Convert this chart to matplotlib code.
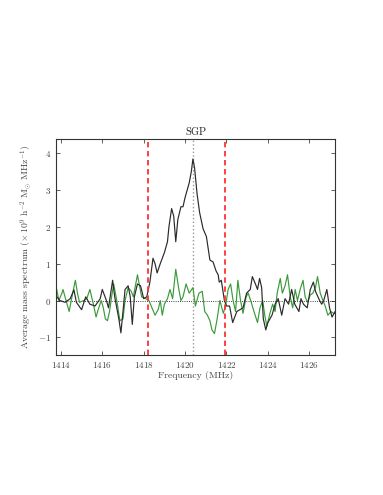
import matplotlib
matplotlib.use("Agg")
from matplotlib import pyplot as plt

plt.rcParams['font.family'] = 'serif'
plt.rcParams['font.serif'] = ['cmr10', 'DejaVu Serif']
plt.rcParams['mathtext.fontset'] = 'cm'
plt.rcParams['axes.formatter.use_mathtext'] = True
plt.rcParams['axes.unicode_minus'] = True

# stacked spectrum (black)
freq_stack = [1413.8, 1413.95, 1414.2, 1414.45, 1414.63, 1414.75, 1415.0, 1415.2,
              1415.4, 1415.65, 1415.9, 1416.0, 1416.2, 1416.3, 1416.5, 1416.6,
              1416.8, 1416.9, 1417.0, 1417.1, 1417.25, 1417.35, 1417.45, 1417.55,
              1417.7, 1417.85, 1418.0, 1418.15, 1418.3, 1418.45, 1418.55, 1418.65,
              1418.8, 1419.0, 1419.15, 1419.22, 1419.35, 1419.45, 1419.55, 1419.65,
              1419.8, 1419.9, 1420.0, 1420.2, 1420.3, 1420.38, 1420.46, 1420.58,
              1420.7, 1420.87, 1421.03, 1421.2, 1421.35, 1421.5, 1421.6, 1421.65,
              1421.75, 1421.9, 1422.0, 1422.15, 1422.3, 1422.5, 1422.65, 1422.8,
              1422.97, 1423.15, 1423.25, 1423.4, 1423.5, 1423.6, 1423.7, 1423.78,
              1423.9, 1424.0, 1424.2, 1424.35, 1424.5, 1424.67, 1424.83, 1425.0,
              1425.15, 1425.3, 1425.5, 1425.6, 1425.72, 1425.9, 1426.05, 1426.2,
              1426.3, 1426.5, 1426.6, 1426.7, 1426.85, 1426.98, 1427.1, 1427.25]
mass_stack = [0.1, 0.0, -0.05, 0.05, 0.29, -0.05, -0.25, 0.1,
              -0.1, -0.15, 0.05, 0.3, 0.0, -0.2, 0.55, 0.1,
              -0.5, -0.88, -0.3, 0.3, 0.4, 0.1, -0.65, 0.1,
              0.45, 0.4, 0.05, 0.1, 0.5, 1.15, 1.0, 0.75,
              1.0, 1.3, 1.6, 2.0, 2.5, 2.3, 1.6, 2.2,
              2.55, 2.55, 2.8, 3.2, 3.5, 3.85, 3.6, 2.9,
              2.4, 1.95, 1.74, 1.1, 1.05, 0.8, 0.7, 0.5,
              0.55, 0.0, -0.15, -0.15, -0.6, -0.3, -0.25, -0.2,
              0.2, 0.3, 0.65, 0.45, 0.3, 0.6, 0.35, -0.5,
              -0.8, -0.6, -0.4, -0.1, 0.05, -0.4, 0.05, -0.1,
              0.3, -0.1, -0.3, 0.05, -0.1, -0.2, 0.3, 0.5,
              0.25, 0.0, -0.1, 0.0, 0.3, -0.2, -0.45, -0.3]

# control spectrum (green)
freq_ctrl = [1413.8, 1413.9, 1414.05, 1414.1, 1414.25, 1414.4, 1414.5, 1414.7,
             1414.8, 1414.9, 1415.1, 1415.25, 1415.4, 1415.57, 1415.7, 1415.8,
             1415.95, 1416.05, 1416.15, 1416.25, 1416.35, 1416.45, 1416.55, 1416.7,
             1416.85, 1417.0, 1417.1, 1417.25, 1417.4, 1417.5, 1417.7, 1417.8,
             1417.9, 1418.1, 1418.25, 1418.4, 1418.55, 1418.7, 1418.8, 1418.9,
             1419.0, 1419.15, 1419.27, 1419.4, 1419.55, 1419.7, 1419.8, 1419.9,
             1420.05, 1420.2, 1420.38, 1420.5, 1420.67, 1420.83, 1420.95, 1421.08,
             1421.2, 1421.3, 1421.42, 1421.55, 1421.68, 1421.85, 1421.97, 1422.08,
             1422.2, 1422.32, 1422.44, 1422.55, 1422.68, 1422.8, 1422.95, 1423.05,
             1423.17, 1423.33, 1423.5, 1423.62, 1423.75, 1423.85, 1423.95, 1424.1,
             1424.23, 1424.35, 1424.45, 1424.6, 1424.7, 1424.83, 1424.95, 1425.08,
             1425.2, 1425.32, 1425.43, 1425.56, 1425.7, 1425.8, 1425.92, 1426.05,
             1426.17, 1426.3, 1426.4, 1426.53, 1426.66, 1426.77, 1426.9, 1427.05,
             1427.17, 1427.25]
mass_ctrl = [0.3, 0.0, 0.2, 0.3, 0.0, -0.3, 0.0, 0.55,
             0.2, -0.05, 0.0, 0.05, 0.3, -0.1, -0.45, -0.25,
             0.0, -0.2, -0.5, -0.55, -0.3, 0.1, 0.45, 0.0,
             -0.55, -0.5, 0.0, 0.35, 0.25, 0.1, 0.7, 0.4,
             0.1, 0.05, 0.0, -0.2, -0.4, -0.25, 0.0, -0.4,
             -0.1, 0.05, 0.3, 0.05, 0.85, 0.3, 0.0, 0.1,
             0.45, 0.2, 0.35, -0.15, 0.2, 0.25, -0.3, -0.4,
             -0.55, -0.8, -0.9, -0.5, 0.0, -0.35, -0.1, 0.3,
             0.45, 0.0, -0.3, 0.55, 0.0, -0.35, 0.1, 0.2,
             0.0, -0.3, -0.6, -0.2, 0.0, -0.4, -0.7, -0.35,
             -0.1, -0.3, 0.2, 0.6, 0.2, 0.4, 0.7, 0.1,
             -0.2, 0.3, 0.0, 0.3, 0.55, 0.1, -0.05, 0.15,
             0.2, 0.35, 0.65, 0.2, 0.0, -0.15, -0.4, -0.3,
             -0.35, -0.35]

window = [1418.2, 1421.95]
hi_line = 1420.4
xticks = [1414, 1416, 1418, 1420, 1422, 1424, 1426]
yticks = [-1, 0, 1, 2, 3, 4]

fig = plt.figure(figsize=(3.83, 4.95), dpi=100)
ax = fig.add_axes([0.146, 0.283, 0.729, 0.436])

ax.axhline(0, color='k', ls=':', lw=0.6)
ax.axvline(hi_line, color='#999999', ls=':', lw=1.0)
ax.plot(freq_ctrl, mass_ctrl, color='#3a9a3a', lw=0.85)
ax.plot(freq_stack, mass_stack, color='#2a2a2a', lw=0.85)
for w in window:
    ax.axvline(w, color='#ff3333', ls='--', lw=1.3, dashes=(3, 2))

ax.set_xlim(1413.76, 1427.25)
ax.set_ylim(-1.48, 4.39)
ax.set_xticks(xticks)
ax.set_yticks(yticks)
ax.tick_params(direction='in', top=True, right=True, labelsize=6.5, colors='#444444',
               length=3, width=0.6)
for s in ax.spines.values():
    s.set_linewidth(0.8)
    s.set_color('#333333')

ax.set_title('SGP', fontsize=7.5, color='#222222', pad=3)
ax.set_xlabel('Frequency (MHz)', fontsize=7, color='#444444', labelpad=1)
ax.set_ylabel(r'Average mass spectrum $(\times\,10^{9}\ \mathrm{h}^{-2}\ \mathrm{M}_{\odot}\ \mathrm{MHz}^{-1})$',
              fontsize=7, color='#444444', labelpad=3)

fig.savefig('out.png', dpi=100)
